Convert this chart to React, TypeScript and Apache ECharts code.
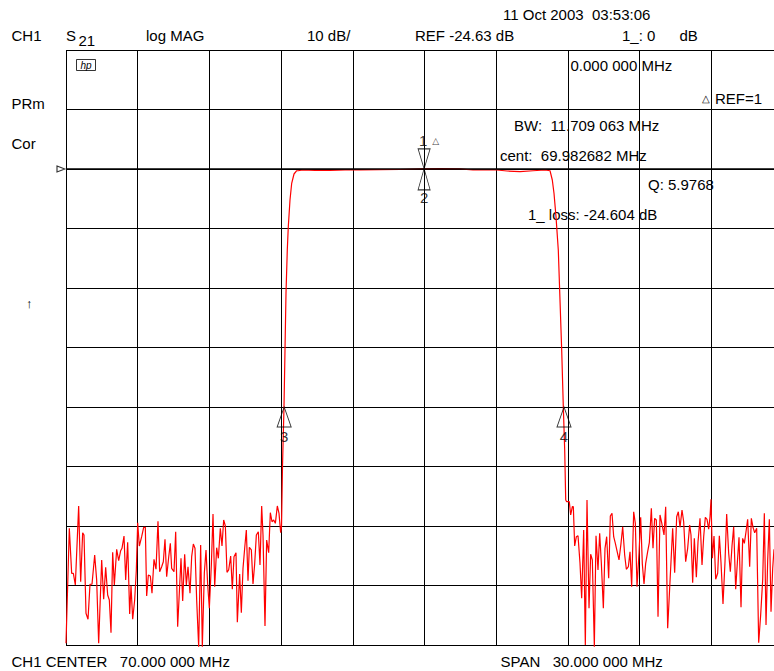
import React, { useEffect, useRef } from "react";
import * as echarts from "echarts";

// ---- instrument settings ----
const START_MHZ = 55; // CENTER 70 MHz, SPAN 30 MHz
const MHZ_PER_DIV = 3;
const VISIBLE_STOP_MHZ = 84.623; // right edge of the photographed screen
const REF_DB = -24.63;
const DB_PER_DIV = 10;

// ---- trace segments: [frequency MHz, S21 dB] ----
const stopbandLow: [number, number][] = [
  [55.0, -104.34], [55.139, -85.02], [55.237, -92.58], [55.307, -92.58], [55.39, -94.54], [55.53, -81.27],
  [55.614, -93.99], [55.697, -85.76], [55.753, -86.14], [55.837, -99.3], [55.921, -100.3], [56.004, -94.42],
  [56.088, -94.42], [56.2, -89.5], [56.283, -93.7], [56.367, -104.34], [56.493, -90.34], [56.576, -96.94],
  [56.66, -91.57], [56.744, -96.22], [56.813, -97.06], [56.883, -102.56], [56.953, -89.05], [57.022, -94.54],
  [57.12, -88.54], [57.204, -90.46], [57.287, -88.78], [57.343, -88.38], [57.427, -86.31], [57.497, -93.7],
  [57.58, -87.37], [57.664, -99.41], [57.72, -94.66], [57.79, -100.3], [57.873, -97.06], [57.943, -92.02],
  [57.999, -84.08], [58.068, -87.99], [58.166, -86.43], [58.25, -84.85], [58.319, -84.85], [58.375, -96.39],
  [58.445, -92.86], [58.528, -93.03], [58.598, -95.94], [58.682, -90.22], [58.766, -91.9], [58.849, -83.84],
  [58.919, -92.31], [59.003, -91.47], [59.072, -90.63], [59.142, -86.86], [59.212, -93.15], [59.296, -89.89],
  [59.365, -87.54], [59.421, -91.74], [59.519, -92.31], [59.589, -85.59], [59.672, -101.55], [59.812, -90.06],
  [59.882, -97.23], [59.965, -89.38], [60.035, -94.54], [60.105, -91.47], [60.188, -95.94], [60.258, -89.79],
  [60.328, -87.65], [60.397, -88.38], [60.467, -97.06], [60.551, -104.91], [60.634, -87.82], [60.704, -104.91],
  [60.788, -92.48], [60.858, -88.66], [60.927, -94.42], [60.997, -98.46], [61.081, -91.18], [61.151, -82.61],
  [61.221, -94.83], [61.304, -88.27], [61.374, -90.06], [61.457, -85.02], [61.527, -87.99], [61.597, -83.62],
  [61.667, -84.63], [61.736, -92.41], [61.806, -92.02], [61.89, -89.67], [61.959, -95.26], [62.029, -89.79],
  [62.113, -89.12], [62.169, -100.81], [62.266, -92.69], [62.336, -99.2], [62.406, -91.74], [62.476, -88.38],
  [62.545, -85.3], [62.615, -93.82], [62.671, -88.21], [62.755, -88.66], [62.824, -94.37], [62.894, -91.01],
  [62.964, -86.14], [63.047, -85.59], [63.117, -91.18], [63.187, -81.27], [63.243, -86.14], [63.326, -101.43],
  [63.396, -86.98], [63.48, -89.12], [63.549, -82.4], [63.619, -83.91], [63.689, -83.62], [63.759, -84.18],
  [63.842, -81.27], [63.912, -82.5], [63.982, -85.76], [64.017, -84.8],
];

const skirtLow: [number, number][] = [
  [64.058, -74.66], [64.121, -64.63], [64.163, -55.05], [64.205, -45.47], [64.259, -38.24],
  [64.301, -34.33], [64.372, -29.84], [64.443, -27.03], [64.54, -25.47], [64.653, -24.92],
];

const passband: [number, number][] = [
  [64.707, -24.92], [64.916, -24.8], [65.418, -24.85], [66.046, -24.85], [66.674, -24.8], [67.301, -24.8],
  [68.138, -24.75], [68.975, -24.71], [69.812, -24.6], [70.649, -24.58], [71.485, -24.6], [72.029, -24.8],
  [73.033, -24.8], [73.452, -24.97], [73.996, -25.08], [74.54, -24.92], [75.042, -24.8], [75.251, -24.92],
];

const skirtHigh: [number, number][] = [
  [75.347, -26.48], [75.418, -28.71], [75.502, -32.65], [75.598, -38.24], [75.669, -46.65],
  [75.74, -55.05], [75.808, -64.63], [75.866, -71.86], [75.908, -80.26], [75.95, -80.55],
];

const stopbandHigh: [number, number][] = [
  [75.975, -80.55], [76.059, -80.55], [76.116, -82.78], [76.185, -81.39], [76.227, -81.39], [76.283, -87.99],
  [76.353, -86.43], [76.423, -86.26], [76.506, -90.9], [76.576, -96.78], [76.66, -85.3], [76.729, -104.63],
  [76.799, -80.26], [76.883, -98.46], [76.952, -89.38], [77.022, -90.34], [77.106, -104.91], [77.176, -86.26],
  [77.259, -92.02], [77.329, -85.86], [77.399, -90.9], [77.483, -98.46], [77.552, -88.38], [77.622, -86.43],
  [77.706, -93.42], [77.775, -82.95], [77.845, -82.5], [77.915, -86.43], [77.985, -87.54], [78.068, -89.05],
  [78.138, -90.34], [78.222, -87.54], [78.292, -84.75], [78.375, -89.5], [78.445, -91.9], [78.529, -91.47],
  [78.598, -88.95], [78.668, -94.83], [78.752, -82.23], [78.821, -84.18], [78.891, -94.83], [78.975, -89.22],
  [79.045, -83.17], [79.114, -91.01], [79.184, -94.37], [79.254, -90.9], [79.337, -88.95], [79.407, -87.44],
  [79.491, -81.66], [79.56, -88.38], [79.63, -83.34], [79.7, -83.62], [79.77, -99.87], [79.853, -82.78],
  [79.923, -84.08], [80.021, -86.14], [80.091, -81.39], [80.174, -101.82], [80.383, -85.02], [80.467, -92.48],
  [80.551, -83.07], [80.62, -82.23], [80.69, -84.85], [80.774, -81.94], [80.844, -83.91], [80.927, -90.63],
  [81.011, -88.38], [81.095, -84.46], [81.15, -86.14], [81.22, -94.16], [81.29, -86.7], [81.374, -93.25],
  [81.444, -87.27], [81.527, -83.34], [81.611, -91.18], [81.681, -86.43], [81.75, -83.17], [81.82, -83.5],
  [81.89, -85.18], [81.946, -83.07], [81.988, -80.14], [82.043, -90.06], [82.113, -86.31], [82.183, -93.58],
  [82.266, -92.58], [82.336, -86.26], [82.406, -90.8], [82.489, -97.73], [82.573, -90.63], [82.643, -82.61],
  [82.727, -89.22], [82.796, -92.31], [82.866, -87.99], [82.936, -84.75], [83.02, -95.26], [83.089, -90.8],
  [83.159, -86.53], [83.243, -98.29], [83.312, -86.7], [83.382, -87.54], [83.452, -85.59], [83.521, -83.5],
  [83.605, -91.47], [83.675, -83.34], [83.745, -84.85], [83.815, -85.76], [83.898, -85.02], [83.982, -104.24],
  [84.065, -99.58], [84.149, -93.7], [84.219, -82.5], [84.289, -101.26], [84.359, -90.34], [84.428, -83.5],
  [84.498, -99.03], [84.568, -91.74], [84.623, -88.54],
];

// ---- markers ----
const markerNames = ["1", "2", "3", "4"];
const markerFreq = [69.983, 69.983, 64.128, 75.837];
const markerDb = [-24.6, -24.6, -64.63, -64.63];

// ---- annotation texts ----
const headerTexts = ["CH1", "S", "21", "log MAG", "10 dB/", "REF -24.63 dB", "1_: 0", "dB"];
const sideTexts = ["PRm", "Cor", "↑"];
const markerReadout = [
  "0.000 000 MHz",
  "REF=1",
  "BW:  11.709 063 MHz",
  "cent:  69.982682 MHz",
  "Q: 5.9768",
  "1_ loss: -24.604 dB",
];
const dateText = "11 Oct 2003  03:53:06";
const footerTexts = ["CH1 CENTER   70.000 000 MHz", "SPAN   30.000 000 MHz"];

const FONT = '"Liberation Sans", Arial, Helvetica, sans-serif';

function txt(text: string, x: number, y: number, size = 15, extra: any = {}) {
  return {
    type: "text",
    x,
    y,
    silent: true,
    style: {
      text,
      fill: "#000",
      font: `${extra.italic ? "italic " : ""}${size}px ${FONT}`,
      align: extra.align || "left",
      verticalAlign: "middle",
      textAlign: extra.align || "left",
      textVerticalAlign: "middle",
    },
  };
}

export default function App() {
  const ref = useRef<HTMLDivElement>(null);

  useEffect(() => {
    if (!ref.current) return;
    const chart = echarts.init(ref.current, undefined, { renderer: "svg" });
    const r2 = (v: number) => Math.round(v * 100) / 100;
    const yMin = r2(REF_DB - 8 * DB_PER_DIV);
    const yMax = r2(REF_DB + 2 * DB_PER_DIV);
    const trace = [...stopbandLow, ...skirtLow, ...passband, ...skirtHigh, ...stopbandHigh];

    const triDown = "path://M0,0L12,0L6,20Z";
    const triRight = "path://M0,0L8,3L0,6Z";

    const markerData = markerNames.map((n, i) => {
      const base: any = { value: [markerFreq[i], markerDb[i]] };
      if (n === "1") {
        return {
          ...base,
          symbol: triDown,
          symbolSize: [12, 20],
          symbolOffset: [0, -10],
          label: {
            show: true,
            position: "top",
            distance: 0,
            offset: [5, 0],
            formatter: "{n|1}{t|△}",
            rich: {
              n: { fontSize: 15, fontFamily: FONT, color: "#000", padding: [0, 5, 0, 0] },
              t: { fontSize: 9, fontFamily: "DejaVu Sans", color: "#000" },
            },
          },
        };
      }
      const w = n === "2" ? 12 : 14;
      const h = n === "2" ? 21 : 20;
      return {
        ...base,
        symbol: "triangle",
        symbolSize: [w, h],
        symbolOffset: [0, h / 2],
        label: { show: true, position: "bottom", distance: n === "2" ? 0 : 1, formatter: n },
      };
    });

    chart.setOption({
      animation: false,
      backgroundColor: "#fff",
      grid: { left: 66, top: 50, right: 0, bottom: 26, containLabel: false },
      xAxis: {
        type: "value",
        min: START_MHZ,
        max: VISIBLE_STOP_MHZ,
        interval: MHZ_PER_DIV,
        axisLine: { show: false },
        axisTick: { show: false },
        axisLabel: { show: false },
        splitLine: { show: true, showMaxLine: false, lineStyle: { color: "#000", width: 1 } },
      },
      yAxis: {
        type: "value",
        min: yMin,
        max: yMax,
        interval: DB_PER_DIV,
        axisLine: { show: false },
        axisTick: { show: false },
        axisLabel: { show: false },
        splitLine: { show: true, lineStyle: { color: "#000", width: 1 } },
      },
      series: [
        {
          type: "line",
          data: trace,
          showSymbol: false,
          symbol: "none",
          clip: false,
          lineStyle: { color: "#ff0000", width: 1.2 },
          z: 3,
          markLine: {
            silent: true,
            symbol: ["none", "none"],
            label: { show: false },
            lineStyle: { color: "#000", width: 1.7, type: "solid" },
            data: [{ yAxis: REF_DB }],
            z: 4,
          },
        },
        {
          type: "scatter",
          data: markerData,
          clip: false,
          z: 5,
          itemStyle: { color: "rgba(0,0,0,0)", borderColor: "#000", borderWidth: 1 },
          label: { color: "#000", fontSize: 15, fontFamily: FONT },
        },
        {
          type: "scatter",
          data: [[START_MHZ, REF_DB]],
          symbol: triRight,
          symbolSize: [8, 6],
          symbolOffset: [-5, 0],
          clip: false,
          z: 5,
          itemStyle: { color: "#fff", borderColor: "#000", borderWidth: 1 },
        },
      ],
      graphic: [
        txt(dateText, 503, 14),
        txt(headerTexts[0], 11.5, 35),
        txt(headerTexts[1], 66, 35),
        txt(headerTexts[2], 78.5, 40.5),
        txt(headerTexts[3], 146, 35),
        txt(headerTexts[4], 307, 35),
        txt(headerTexts[5], 415, 35),
        txt(headerTexts[6], 622, 35),
        txt(headerTexts[7], 679.5, 35),
        txt(sideTexts[0], 11.5, 103),
        txt(sideTexts[1], 11.5, 143),
        txt(sideTexts[2], 26, 303, 13),
        {
          type: "rect",
          silent: true,
          shape: { x: 76.5, y: 59.5, width: 19, height: 11 },
          style: { fill: "none", stroke: "#000", lineWidth: 0.8 },
        },
        txt("hp", 86, 65.5, 10, { italic: true, align: "center" }),
        txt(markerReadout[0], 570.5, 65),
        txt("△", 701.5, 98.5, 10, {}),
        txt(markerReadout[1], 715, 98),
        txt(markerReadout[2], 514, 125.5),
        txt(markerReadout[3], 500, 155.5),
        txt(markerReadout[4], 648, 184.5),
        txt(markerReadout[5], 528, 214),
        txt(footerTexts[0], 11.5, 661.5),
        txt(footerTexts[1], 500.5, 661.5),
      ],
    });

    return () => chart.dispose();
  }, []);

  return (
    <div
      ref={ref}
      style={{ position: "fixed", left: 0, top: 0, width: 774, height: 671, background: "#fff" }}
    />
  );
}
